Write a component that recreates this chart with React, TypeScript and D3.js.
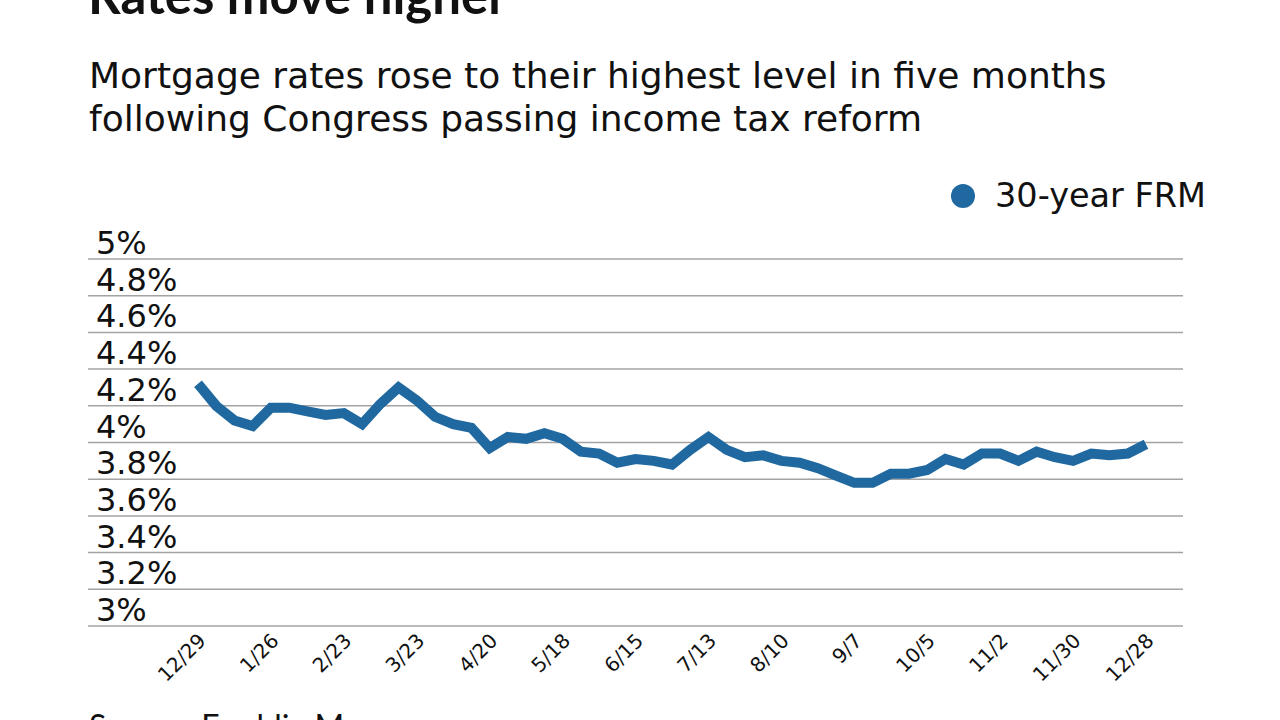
import * as d3 from "d3";

const dates = [
  "12/29", "1/5", "1/12", "1/19", "1/26", "2/2", "2/9", "2/16", "2/23", "3/2",
  "3/9", "3/16", "3/23", "3/30", "4/6", "4/13", "4/20", "4/27", "5/4", "5/11",
  "5/18", "5/25", "6/1", "6/8", "6/15", "6/22", "6/29", "7/6", "7/13", "7/20",
  "7/27", "8/3", "8/10", "8/17", "8/24", "8/31", "9/7", "9/14", "9/21", "9/28",
  "10/5", "10/12", "10/19", "10/26", "11/2", "11/9", "11/16", "11/22", "11/30",
  "12/7", "12/14", "12/21", "12/28",
];

const rates = [
  4.32, 4.2, 4.12, 4.09, 4.19, 4.19, 4.17, 4.15, 4.16, 4.1,
  4.21, 4.3, 4.23, 4.14, 4.1, 4.08, 3.97, 4.03, 4.02, 4.05,
  4.02, 3.95, 3.94, 3.89, 3.91, 3.9, 3.88, 3.96, 4.03, 3.96,
  3.92, 3.93, 3.9, 3.89, 3.86, 3.82, 3.78, 3.78, 3.83, 3.83,
  3.85, 3.91, 3.88, 3.94, 3.94, 3.9, 3.95, 3.92, 3.9,
  3.94, 3.93, 3.94, 3.99,
];

const xTicks = [
  "12/29", "1/26", "2/23", "3/23", "4/20", "5/18", "6/15",
  "7/13", "8/10", "9/7", "10/5", "11/2", "11/30", "12/28",
];

const yTicks = [3, 3.2, 3.4, 3.6, 3.8, 4, 4.2, 4.4, 4.6, 4.8, 5];

const W = 1280;
const H = 720;
const FONT = "'DejaVu Sans', 'Open Sans', sans-serif";
const LATO = "Lato, 'Open Sans', sans-serif";
const BLUE = "#1f68a0";

export default function App() {
  const x = d3
    .scalePoint<string>()
    .domain(dates)
    .range([198, 1146]);

  const y = d3.scaleLinear().domain([3, 5]).range([626, 259]);

  const line = d3
    .line<number>()
    .x((_, i) => x(dates[i]) ?? 0)
    .y((d) => y(d));

  const fmt = (v: number) => `${d3.format("~g")(v)}%`;

  return (
    <svg
      width={W}
      height={H}
      style={{ position: "absolute", left: 0, top: 0, background: "#fff" }}
      fontFamily={FONT}
    >
      {/* Title (cropped at top) */}
      <text x={88} y={14} fontSize={51} fontWeight={700} fill="#111" fontFamily={LATO}>
        Rates move higher
      </text>
      <text x={89} y={88} fontSize={36} fill="#111">
        Mortgage rates rose to their highest level in five months
      </text>
      <text x={89} y={131} fontSize={36} fill="#111">
        following Congress passing income tax reform
      </text>

      {/* Legend */}
      <circle cx={963} cy={196} r={12} fill={BLUE} />
      <text x={995} y={207} fontSize={33.5} fill="#111">
        30-year FRM
      </text>

      {/* Grid + y labels */}
      <g>
        {yTicks.map((t) => (
          <g key={t}>
            <line
              x1={88}
              x2={1183}
              y1={y(t)}
              y2={y(t)}
              stroke="#a3a3a3"
              strokeWidth={1.5}
            />
            <text x={96} y={y(t) - 5} fontSize={32} fill="#111">
              {fmt(t)}
            </text>
          </g>
        ))}
      </g>

      {/* x labels */}
      <g>
        {xTicks.map((t) => {
          const px = (x(t) ?? 0) + 9;
          const py = 642;
          return (
            <text
              key={t}
              x={px}
              y={py}
              fontSize={20}
              fill="#111"
              textAnchor="end"
              transform={`rotate(-45 ${px} ${py})`}
            >
              {t}
            </text>
          );
        })}
      </g>

      {/* Series */}
      <path
        d={line(rates) ?? ""}
        fill="none"
        stroke={BLUE}
        strokeWidth={10}
        strokeLinejoin="miter"
      />

      <text x={89} y={738} fontSize={32} fill="#111" fontFamily={LATO}>
        Source: Freddie Mac
      </text>
    </svg>
  );
}
